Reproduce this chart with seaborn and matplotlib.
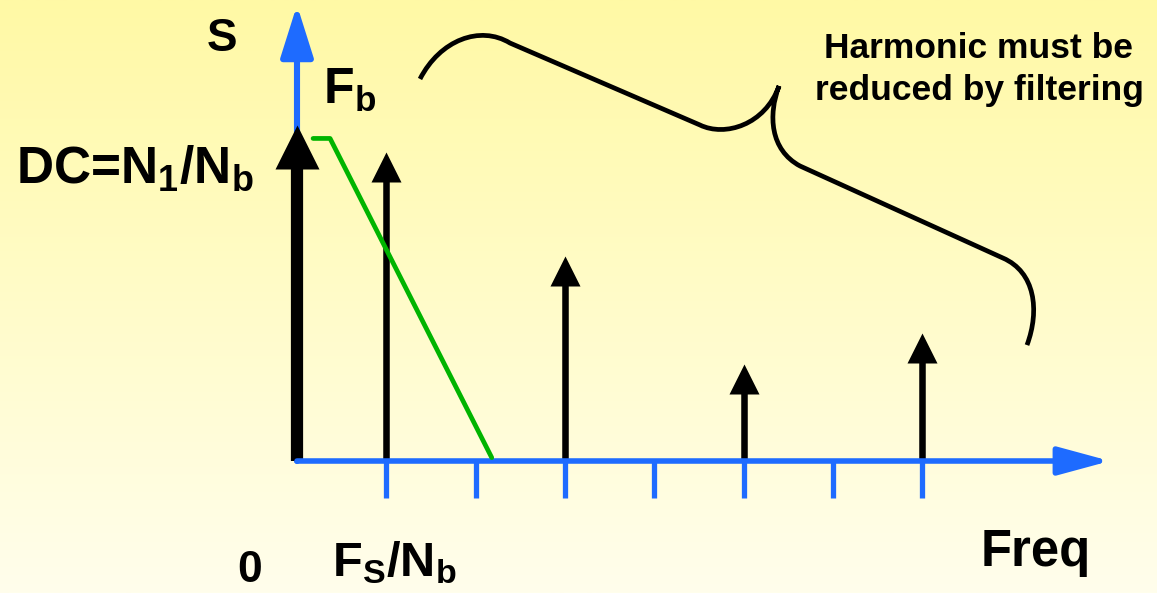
import numpy as np
import pandas as pd
import matplotlib
matplotlib.use("Agg")
import matplotlib.pyplot as plt
from matplotlib.path import Path
from matplotlib.patches import PathPatch
import seaborn as sns

# Spectrum of the pulse-density signal (in units of Fs/Nb and DC level)
dc_freq = [0]
dc_amp = [1.0]
harmonic_freq = [1, 3, 5, 7]
harmonic_amp = [0.92, 0.61, 0.29, 0.38]
tick_freq = [1, 2, 3, 4, 5, 6, 7]

# Low-pass filter response sketch
filter_freq = [0.18, 0.37, 2.18]
filter_gain = [0.96, 0.96, 0.01]

sns.set_theme(style="white")
plt.rcParams["font.family"] = ["Liberation Sans", "DejaVu Sans"]
plt.rcParams["font.weight"] = "bold"
plt.rcParams["mathtext.fontset"] = "custom"
plt.rcParams["mathtext.rm"] = "Liberation Sans:bold"
plt.rcParams["mathtext.it"] = "Liberation Sans:bold"
plt.rcParams["mathtext.bf"] = "Liberation Sans:bold"
plt.rcParams["mathtext.default"] = "rm"

W, H, DPI = 1157, 593, 100
fig = plt.figure(figsize=(W / DPI, H / DPI), dpi=DPI)
ax = fig.add_axes([0, 0, 1, 1])

# pixel scale of the drawing: one frequency step and one DC unit
px_x = 89.33
px_y = 336.0
x0_px, y0_px = 297.0, 461.0
xlim = (-x0_px / px_x, (W - x0_px) / px_x)
ylim = (-(H - y0_px) / px_y, y0_px / px_y)

# soft yellow vertical gradient background
top = np.array([255, 249, 165]) / 255
bot = np.array([255, 254, 236]) / 255
t = np.linspace(0, 1, 256)[:, None]
grad = (top[None, :] * (1 - t) + bot[None, :] * t)[:, None, :]
ax.imshow(grad, aspect="auto", extent=[xlim[0], xlim[1], ylim[0], ylim[1]],
          origin="upper", zorder=0)
ax.set_xlim(*xlim)
ax.set_ylim(*ylim)
ax.axis("off")

blue = "#1E6BFF"
green = "#00B400"

# frequency ticks
ax.vlines(tick_freq, -37 / px_y, 0, color=blue, lw=3.8, zorder=4, capstyle="butt")

# axes arrows
ax.annotate("", xy=(813 / px_x, 0), xytext=(0, 0),
            arrowprops=dict(arrowstyle="-|>,head_length=31.7,head_width=8.6", mutation_scale=1,
                            color=blue, lw=4.0, shrinkA=0, shrinkB=0), zorder=4)
ax.annotate("", xy=(0, 456 / px_y), xytext=(0, 0),
            arrowprops=dict(arrowstyle="-|>,head_length=31.7,head_width=10.0", mutation_scale=1,
                            color=blue, lw=4.4, shrinkA=0, shrinkB=0), zorder=2)

# DC component: thick arrow
dc_head = 44.0
ax.vlines(dc_freq, 0, [a - (dc_head - 2) / px_y for a in dc_amp], color="black", lw=8.8,
          capstyle="butt", zorder=3)
dc_df = pd.DataFrame({"f": dc_freq, "a": [a - dc_head / 2 / px_y for a in dc_amp]})
sns.scatterplot(data=dc_df, x="f", y="a", marker="^", s=(dc_head * 0.72) ** 2, color="black",
                linewidth=0, ax=ax, zorder=3, legend=False)

# harmonics
h_head = 30.0
ax.vlines(harmonic_freq, 0, [a - (h_head - 2) / px_y for a in harmonic_amp], color="black", lw=4.7,
          capstyle="butt", zorder=3)
h_df = pd.DataFrame({"f": harmonic_freq, "a": [a - h_head / 2 / px_y for a in harmonic_amp]})
sns.scatterplot(data=h_df, x="f", y="a", marker="^", s=(h_head * 0.72) ** 2, color="black",
                linewidth=0, ax=ax, zorder=3, legend=False)

# filter response
f_df = pd.DataFrame({"f": filter_freq, "g": filter_gain})
sns.lineplot(data=f_df, x="f", y="g", sort=False, color=green, lw=3.4, ax=ax, zorder=5)

# curly brace grouping the harmonics
brace_pts = [(1.377, 1.137), (1.601, 1.253), (2.049, 1.298), (2.384, 1.244),
             (4.511, 1.000),
             (4.791, 0.964), (5.239, 1.000), (5.396, 1.116),
             (5.273, 1.030), (5.295, 0.926), (5.631, 0.878),
             (7.903, 0.604),
             (8.262, 0.5625), (8.317, 0.449), (8.172, 0.345)]
codes = [Path.MOVETO, Path.CURVE4, Path.CURVE4, Path.CURVE4, Path.LINETO,
         Path.CURVE4, Path.CURVE4, Path.CURVE4,
         Path.CURVE4, Path.CURVE4, Path.CURVE4, Path.LINETO,
         Path.CURVE4, Path.CURVE4, Path.CURVE4]
ax.add_patch(PathPatch(Path(brace_pts, codes), fill=False, ec="black", lw=3.4,
                       capstyle="butt", zorder=3))

# labels
def fx(px):
    return px / W

def fy(py):
    return 1 - py / H

tk = dict(color="black", fontweight="bold")
fig.text(fx(222), fy(51), "S", fontsize=33, ha="center", va="baseline", **tk)
fig.text(fx(323), fy(104), r"F$_\mathrm{b}$", fontsize=36, ha="left", va="baseline", **tk)
fig.text(fx(16), fy(183), r"DC=N$_\mathrm{1}$/N$_\mathrm{b}$", fontsize=37, ha="left", va="baseline", **tk)
fig.text(fx(250), fy(582), "0", fontsize=32, ha="center", va="baseline", **tk)
fig.text(fx(332), fy(576), r"F$_\mathrm{S}$/N$_\mathrm{b}$", fontsize=35, ha="left", va="baseline", **tk)
fig.text(fx(981), fy(566), "Freq", fontsize=36.5, ha="left", va="baseline", **tk)
fig.text(fx(979), fy(58), "Harmonic must be", fontsize=25.5, ha="center", va="baseline", **tk)
fig.text(fx(979), fy(100), "reduced by filtering", fontsize=25.5, ha="center", va="baseline", **tk)

fig.savefig("out.png", dpi=DPI)
